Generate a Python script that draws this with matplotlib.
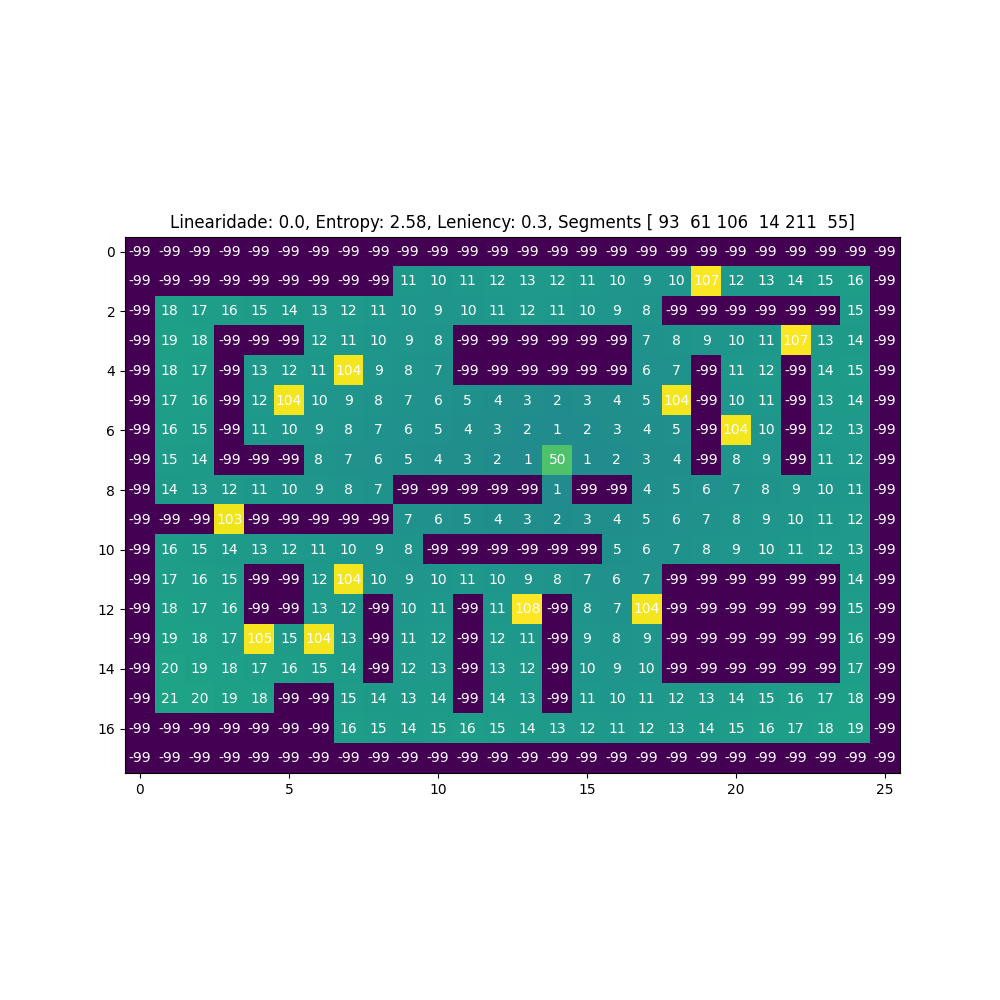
import numpy as np
import matplotlib
matplotlib.use("Agg")
import matplotlib.pyplot as plt

W = -99
grid_rows = [
    [W] * 26,
    [W, W, W, W, W, W, W, W, W, 11, 10, 11, 12, 13, 12, 11, 10, 9, 10, 107, 12, 13, 14, 15, 16, W],
    [W, 18, 17, 16, 15, 14, 13, 12, 11, 10, 9, 10, 11, 12, 11, 10, 9, 8, W, W, W, W, W, W, 15, W],
    [W, 19, 18, W, W, W, 12, 11, 10, 9, 8, W, W, W, W, W, W, 7, 8, 9, 10, 11, 107, 13, 14, W],
    [W, 18, 17, W, 13, 12, 11, 104, 9, 8, 7, W, W, W, W, W, W, 6, 7, W, 11, 12, W, 14, 15, W],
    [W, 17, 16, W, 12, 104, 10, 9, 8, 7, 6, 5, 4, 3, 2, 3, 4, 5, 104, W, 10, 11, W, 13, 14, W],
    [W, 16, 15, W, 11, 10, 9, 8, 7, 6, 5, 4, 3, 2, 1, 2, 3, 4, 5, W, 104, 10, W, 12, 13, W],
    [W, 15, 14, W, W, W, 8, 7, 6, 5, 4, 3, 2, 1, 50, 1, 2, 3, 4, W, 8, 9, W, 11, 12, W],
    [W, 14, 13, 12, 11, 10, 9, 8, 7, W, W, W, W, W, 1, W, W, 4, 5, 6, 7, 8, 9, 10, 11, W],
    [W, W, W, 103, W, W, W, W, W, 7, 6, 5, 4, 3, 2, 3, 4, 5, 6, 7, 8, 9, 10, 11, 12, W],
    [W, 16, 15, 14, 13, 12, 11, 10, 9, 8, W, W, W, W, W, W, 5, 6, 7, 8, 9, 10, 11, 12, 13, W],
    [W, 17, 16, 15, W, W, 12, 104, 10, 9, 10, 11, 10, 9, 8, 7, 6, 7, W, W, W, W, W, W, 14, W],
    [W, 18, 17, 16, W, W, 13, 12, W, 10, 11, W, 11, 108, W, 8, 7, 104, W, W, W, W, W, W, 15, W],
    [W, 19, 18, 17, 105, 15, 104, 13, W, 11, 12, W, 12, 11, W, 9, 8, 9, W, W, W, W, W, W, 16, W],
    [W, 20, 19, 18, 17, 16, 15, 14, W, 12, 13, W, 13, 12, W, 10, 9, 10, W, W, W, W, W, W, 17, W],
    [W, 21, 20, 19, 18, W, W, 15, 14, 13, 14, W, 14, 13, W, 11, 10, 11, 12, 13, 14, 15, 16, 17, 18, W],
    [W, W, W, W, W, W, W, 16, 15, 14, 15, 16, 15, 14, 13, 12, 11, 12, 13, 14, 15, 16, 17, 18, 19, W],
    [W] * 26,
]
segments = [93, 61, 106, 14, 211, 55]
title = "Linearidade: 0.0, Entropy: 2.58, Leniency: 0.3, Segments " + str(np.array(segments))

grid = np.array(grid_rows)

fig, ax = plt.subplots(figsize=(10, 10))
ax.imshow(grid, cmap="viridis")
for i in range(grid.shape[0]):
    for j in range(grid.shape[1]):
        ax.text(j, i, str(grid[i, j]), ha="center", va="center", color="w")
ax.set_title(title)

plt.savefig("out.png", dpi=100)
